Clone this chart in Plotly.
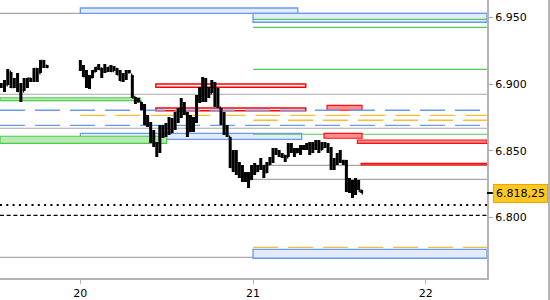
import pandas as pd
import plotly.graph_objects as go

# ---------------- data ----------------
# session 1 (19th afternoon)
seg1_high = [6.9008, 6.9030, 6.9113, 6.9090, 6.9045, 6.9083, 6.9008, 6.9045, 6.9045, 6.9045,
             6.9120, 6.9120, 6.9180, 6.9180, 6.9143]
seg1_low = [6.8970, 6.8940, 6.8993, 6.8970, 6.8970, 6.8940, 6.8865, 6.8948, 6.8970, 6.9015,
            6.9015, 6.9015, 6.9083, 6.9120, 6.9120]
seg1_close = [6.8985, 6.8960, 6.9100, 6.8980, 6.8990, 6.8950, 6.8930, 6.9000, 6.9040, 6.9030,
              6.9110, 6.9050, 6.9170, 6.9135, 6.9130]

# session 2 (20th 00:00 -> 21st afternoon)
seg2_high = [6.9180, 6.9143, 6.9105, 6.9068, 6.9105, 6.9128, 6.9150, 6.9120, 6.9150, 6.9128,
             6.9143, 6.9135, 6.9120, 6.9105, 6.9083, 6.9105, 6.9105, 6.9068, 6.8903, 6.8895,
             6.8865, 6.8850, 6.8768, 6.8715, 6.8655, 6.8565, 6.8693, 6.8693, 6.8708, 6.8753,
             6.8745, 6.8790, 6.8820, 6.8895, 6.8865, 6.8790, 6.8768, 6.8753, 6.8918, 6.8978,
             6.9053, 6.9045, 6.8978, 6.9030, 6.9015, 6.8970, 6.8820, 6.8790, 6.8693, 6.8603,
             6.8505, 6.8505, 6.8415, 6.8393, 6.8340, 6.8340, 6.8393, 6.8408, 6.8393, 6.8445,
             6.8393, 6.8415, 6.8453, 6.8520, 6.8520, 6.8505, 6.8483, 6.8468, 6.8558, 6.8558,
             6.8520, 6.8520, 6.8543, 6.8543, 6.8558, 6.8565, 6.8565, 6.8580, 6.8580, 6.8565,
             6.8565, 6.8558, 6.8528, 6.8445, 6.8483, 6.8505, 6.8430, 6.8430, 6.8295, 6.8280,
             6.8295, 6.8280, 6.8205]
seg2_low = [6.9098, 6.9053, 6.8970, 6.8963, 6.9045, 6.9090, 6.9105, 6.9045, 6.9083, 6.9090,
            6.9090, 6.9098, 6.9068, 6.9023, 6.9015, 6.9030, 6.9083, 6.8895, 6.8850, 6.8865,
            6.8805, 6.8693, 6.8678, 6.8558, 6.8528, 6.8453, 6.8483, 6.8595, 6.8603, 6.8618,
            6.8633, 6.8655, 6.8708, 6.8745, 6.8768, 6.8603, 6.8640, 6.8640, 6.8708, 6.8858,
            6.8865, 6.8865, 6.8895, 6.8933, 6.8828, 6.8820, 6.8693, 6.8618, 6.8603, 6.8370,
            6.8340, 6.8318, 6.8295, 6.8265, 6.8265, 6.8220, 6.8280, 6.8318, 6.8340, 6.8355,
            6.8295, 6.8333, 6.8393, 6.8408, 6.8468, 6.8453, 6.8445, 6.8415, 6.8453, 6.8483,
            6.8453, 6.8483, 6.8468, 6.8505, 6.8505, 6.8468, 6.8483, 6.8505, 6.8483, 6.8505,
            6.8520, 6.8483, 6.8355, 6.8355, 6.8393, 6.8408, 6.8393, 6.8190, 6.8183, 6.8145,
            6.8168, 6.8205, 6.8183]
seg2_close = [6.9110, 6.9060, 6.8990, 6.9050, 6.9095, 6.9120, 6.9115, 6.9110, 6.9100, 6.9120,
              6.9100, 6.9110, 6.9075, 6.9030, 6.9060, 6.9090, 6.9090, 6.8900, 6.8870, 6.8870,
              6.8820, 6.8700, 6.8690, 6.8570, 6.8540, 6.8500, 6.8650, 6.8620, 6.8690, 6.8640,
              6.8720, 6.8780, 6.8800, 6.8780, 6.8780, 6.8650, 6.8660, 6.8720, 6.8900, 6.8960,
              6.8900, 6.8960, 6.8920, 6.8960, 6.8880, 6.8830, 6.8710, 6.8640, 6.8620, 6.8380,
              6.8470, 6.8330, 6.8380, 6.8280, 6.8320, 6.8290, 6.8380, 6.8350, 6.8380, 6.8370,
              6.8340, 6.8400, 6.8430, 6.8500, 6.8490, 6.8470, 6.8460, 6.8450, 6.8540, 6.8500,
              6.8490, 6.8500, 6.8530, 6.8520, 6.8540, 6.8500, 6.8550, 6.8540, 6.8510, 6.8540,
              6.8540, 6.8510, 6.8380, 6.8410, 6.8450, 6.8420, 6.8420, 6.8210, 6.8250, 6.8180,
              6.8240, 6.8200, 6.81825]

last_price = 6.81825
last_price_text = "6.818,25"

LEFT = "2023-03-19 12:50"
RIGHT = "2023-03-22 08:31"

x_tick_vals = ["2023-03-20", "2023-03-21", "2023-03-22"]
x_tick_text = ["20", "21", "22"]
y_tick_vals = [6.80, 6.85, 6.90, 6.95]
y_tick_text = ["6.800", "6.850", "6.900", "6.950"]

# zones: (start, end, low, high)
blue_zones = [
    ("2023-03-20 00:00", "2023-03-21 06:13", 6.9530, 6.9570),
    ("2023-03-21 00:00", RIGHT, 6.9463, 6.9530),
    ("2023-03-20 00:00", "2023-03-21 06:46", 6.8585, 6.8630),
    ("2023-03-21 00:00", RIGHT, 6.7693, 6.7760),
]
green_zones = [
    (LEFT, "2023-03-20 08:18", 6.8875, 6.8897),
    (LEFT, "2023-03-20 12:00", 6.8555, 6.8608),
]
red_outline_zones = [
    ("2023-03-20 10:30", "2023-03-21 07:19", 6.8975, 6.9000),
    ("2023-03-20 10:30", "2023-03-21 07:19", 6.8800, 6.8820),
]
red_filled_zones = [
    ("2023-03-21 10:17", "2023-03-21 15:09", 6.8803, 6.8840),
    ("2023-03-21 09:52", "2023-03-21 15:09", 6.8593, 6.8630),
    ("2023-03-21 14:30", RIGHT, 6.8555, 6.8580),
    ("2023-03-21 15:01", RIGHT, 6.8393, 6.8405),
]
# lines: (start, end, price)
gray_lines = [
    (LEFT, RIGHT, 6.9530),
    (LEFT, RIGHT, 6.8923),
    (LEFT, RIGHT, 6.8668),
    ("2023-03-21 00:00", RIGHT, 6.8390),
    ("2023-03-21 00:00", RIGHT, 6.8285),
    (LEFT, "2023-03-21 00:00", 6.7700),
]
green_lines = [
    ("2023-03-21 00:00", RIGHT, 6.9485),
    ("2023-03-21 00:00", RIGHT, 6.9425),
    ("2023-03-21 00:00", RIGHT, 6.9110),
    ("2023-03-21 00:00", RIGHT, 6.8623),
]
blue_dashed_lines = [
    (LEFT, RIGHT, 6.8803),
    (LEFT, RIGHT, 6.8690),
]
orange_dashed_lines = [
    ("2023-03-20 00:00", RIGHT, 6.8765),
    ("2023-03-21 00:00", RIGHT, 6.8728),
    ("2023-03-21 00:00", RIGHT, 6.7775),
]
black_dotted_lines = [(LEFT, RIGHT, 6.8093)]
black_dashed_lines = [(LEFT, RIGHT, 6.8015)]

# ---------------- build ----------------
seg1_time = pd.date_range("2023-03-19 13:00", periods=len(seg1_high), freq="1640s")
seg2_time = pd.date_range("2023-03-20 00:00", periods=len(seg2_high), freq="1530s")
times = list(seg1_time) + list(seg2_time)
highs = seg1_high + seg2_high
lows = seg1_low + seg2_low
closes = seg1_close + seg2_close
opens = []
prev = closes[0]
for h, l, c in zip(highs, lows, closes):
    opens.append(min(max(prev, l), h))
    prev = c

fig = go.Figure()
fig.add_trace(go.Ohlc(
    x=times, open=opens, high=highs, low=lows, close=closes,
    increasing=dict(line=dict(color="black", width=3)),
    decreasing=dict(line=dict(color="black", width=3)),
    tickwidth=0.4, hoverinfo="skip", showlegend=False,
))

shapes = []


def hline(lst, color, width, dash="solid"):
    for x0, x1, y in lst:
        shapes.append(dict(type="line", xref="x", yref="y", x0=x0, x1=x1, y0=y, y1=y,
                           line=dict(color=color, width=width, dash=dash), layer="below"))


def zone(lst, fill, color, width):
    for x0, x1, y0, y1 in lst:
        shapes.append(dict(type="rect", xref="x", yref="y", x0=x0, x1=x1, y0=y0, y1=y1,
                           fillcolor=fill, line=dict(color=color, width=width), layer="below"))


hline(gray_lines, "#a8a8a8", 1.2)
zone(blue_zones, "#e4ecfc", "#6a9af0", 1.3)
zone(green_zones, "#b5ebb0", "#4ccc4c", 1.2)
hline(green_lines, "#55c855", 1.2)
zone(red_outline_zones, "#fff2f2", "#ff0000", 1.5)
zone(red_filled_zones, "#ff8c8c", "#ff1010", 1.2)
hline(blue_dashed_lines, "#6a9af0", 1.3, "25px,10px")
hline(orange_dashed_lines, "#ffbb33", 1.3, "25px,10px")
hline(black_dotted_lines, "#000000", 2, "2px,4.3px")
hline(black_dashed_lines, "#000000", 1.2, "4px,2.7px")

# last-price marker tick on axis
shapes.append(dict(type="line", xref="paper", yref="y", x0=1.0, x1=1.012,
                   y0=last_price, y1=last_price, line=dict(color="black", width=2)))
# right outer border
shapes.append(dict(type="line", xref="paper", yref="paper", x0=1.1273, x1=1.1273,
                   y0=-0.08, y1=1.0, line=dict(color="#b4b4b4", width=2)))

font = dict(family="DejaVu Sans", size=11, color="#000000")

fig.update_layout(
    width=550, height=300,
    margin=dict(l=0, r=63, t=0, b=22),
    paper_bgcolor="white", plot_bgcolor="white",
    showlegend=False,
    shapes=shapes,
    xaxis=dict(type="date", range=[LEFT, RIGHT], tickvals=x_tick_vals, ticktext=x_tick_text,
               showgrid=False, zeroline=False, showline=True, linecolor="#b4b4b4", linewidth=2,
               ticks="outside", ticklen=4, tickcolor="#b4b4b4", tickfont=font,
               rangeslider=dict(visible=False), fixedrange=True),
    yaxis=dict(side="right", range=[6.7545, 6.963], tickvals=y_tick_vals, ticktext=y_tick_text,
               showgrid=False, zeroline=False, showline=True, linecolor="#b4b4b4", linewidth=2,
               ticks="outside", ticklen=4, tickcolor="#a0a0a0", tickfont=font, fixedrange=True),
    annotations=[dict(x=1, xref="paper", xanchor="left", xshift=6, y=last_price, yref="y",
                      text=last_price_text, showarrow=False, bgcolor="#ffc820",
                      bordercolor="#e8a800", borderwidth=1, borderpad=2, font=font)],
)

fig.write_html("out.html", config={"displayModeBar": False})
